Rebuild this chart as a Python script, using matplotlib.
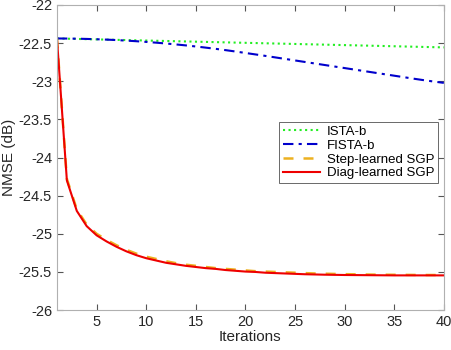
import matplotlib
matplotlib.use("Agg")
import matplotlib.pyplot as plt
import numpy as np

plt.rcParams['font.family'] = ['Liberation Sans', 'DejaVu Sans']

# iterations 1..40
iters = np.arange(1, 41)

ista_b = [-22.44, -22.443, -22.446, -22.449, -22.452, -22.455, -22.458, -22.461, -22.464, -22.467,
          -22.470, -22.473, -22.476, -22.479, -22.482, -22.485, -22.488, -22.491, -22.494, -22.497,
          -22.500, -22.503, -22.506, -22.509, -22.512, -22.515, -22.518, -22.521, -22.524, -22.527,
          -22.530, -22.533, -22.536, -22.539, -22.542, -22.545, -22.548, -22.551, -22.554, -22.557]
fista_b = [-22.44, -22.441, -22.443, -22.446, -22.450, -22.455, -22.461, -22.468, -22.476, -22.485,
           -22.495, -22.506, -22.518, -22.531, -22.545, -22.560, -22.576, -22.593, -22.611, -22.630,
           -22.649, -22.668, -22.688, -22.708, -22.728, -22.748, -22.768, -22.788, -22.808, -22.828,
           -22.848, -22.868, -22.888, -22.908, -22.928, -22.948, -22.968, -22.987, -23.005, -23.022]
step_sgp = [-22.44, -24.28, -24.68, -24.88, -25.00, -25.08, -25.15, -25.21, -25.26, -25.30,
            -25.33, -25.36, -25.385, -25.405, -25.42, -25.435, -25.45, -25.46, -25.47, -25.48,
            -25.49, -25.495, -25.50, -25.505, -25.51, -25.515, -25.52, -25.523, -25.526, -25.529,
            -25.531, -25.533, -25.535, -25.536, -25.537, -25.538, -25.539, -25.54, -25.54, -25.54]
diag_sgp = [-22.44, -24.30, -24.70, -24.90, -25.02, -25.10, -25.17, -25.23, -25.28, -25.32,
            -25.35, -25.38, -25.40, -25.42, -25.435, -25.45, -25.46, -25.475, -25.485, -25.495,
            -25.50, -25.51, -25.515, -25.52, -25.525, -25.53, -25.533, -25.536, -25.538, -25.54,
            -25.541, -25.542, -25.543, -25.544, -25.545, -25.545, -25.545, -25.545, -25.545, -25.545]

fig = plt.figure(figsize=(4.52, 3.5), dpi=100)
ax = fig.add_axes([0.126, 0.114, 0.856, 0.872])

ax.plot(iters, ista_b, color='#22ee22', linestyle=':', linewidth=1.5, label='ISTA-b')
ax.plot(iters, fista_b, color='#0000cc', linestyle=(0, (5, 2.5, 1.5, 2.5)), linewidth=1.5, label='FISTA-b')
ax.plot(iters, step_sgp, color='#edb120', linestyle=(0, (4, 4)), linewidth=1.8, label='Step-learned SGP')
ax.plot(iters, diag_sgp, color='#ee0000', linestyle='-', linewidth=1.5, label='Diag-learned SGP')

ax.set_xlim(1, 40)
ax.set_ylim(-26, -22)
ax.set_xticks([5, 10, 15, 20, 25, 30, 35, 40])
ax.set_yticks(np.arange(-26, -21.9, 0.5))
ax.set_yticklabels(['-26', '-25.5', '-25', '-24.5', '-24', '-23.5', '-23', '-22.5', '-22'])

for s in ax.spines.values():
    s.set_color('#b0b0b0')
    s.set_linewidth(0.8)
ax.tick_params(direction='in', top=True, right=True, length=4, color='#555555',
               labelsize=10.5, labelcolor='#262626')
ax.set_xlabel('Iterations', fontsize=11, color='#262626', labelpad=1)
ax.set_ylabel('NMSE (dB)', fontsize=11, color='#262626', labelpad=2)

leg = ax.legend(loc='upper left', bbox_to_anchor=(0.574, 0.617), fontsize=9.5,
                frameon=True, fancybox=False, borderpad=0.3, labelspacing=0.12,
                handlelength=2.8, handletextpad=0.5, borderaxespad=0)
leg.get_frame().set_edgecolor('#262626')
leg.get_frame().set_linewidth(0.6)

fig.savefig('out.png', dpi=100)
